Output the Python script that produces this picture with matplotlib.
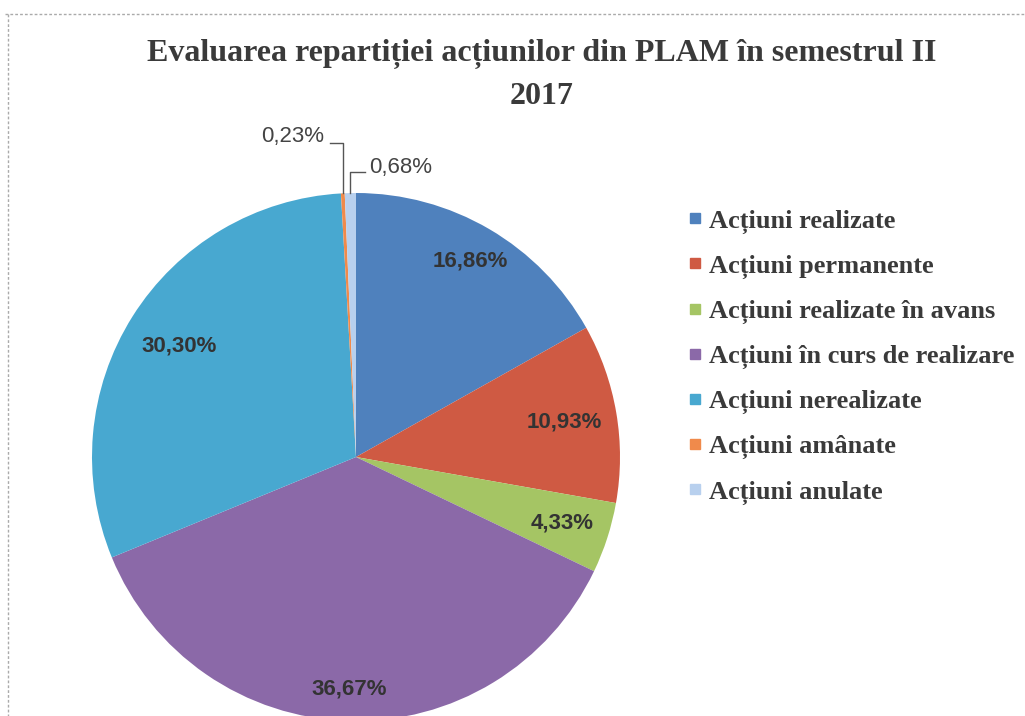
import numpy as np
import matplotlib
matplotlib.use("Agg")
import matplotlib.pyplot as plt
from matplotlib.lines import Line2D

# ---- data ----
categories = ["Acțiuni realizate", "Acțiuni permanente", "Acțiuni realizate în avans",
              "Acțiuni în curs de realizare", "Acțiuni nerealizate", "Acțiuni amânate",
              "Acțiuni anulate"]
values = [16.86, 10.93, 4.33, 36.67, 30.30, 0.23, 0.68]
value_labels = ["16,86%", "10,93%", "4,33%", "36,67%", "30,30%", "0,23%", "0,68%"]
colors = ["#4F81BD", "#CF5A43", "#A5C564", "#8B69A8", "#48A8D0", "#F08A4B", "#B8D0EE"]
title = "Evaluarea repartiției acțiunilor din PLAM în semestrul II\n2017"

W, H = 1025, 716
fig = plt.figure(figsize=(W / 100, H / 100), dpi=100)
fig.patch.set_facecolor("white")

# pie axes (pixel geometry: centre (356,457), radius 264)
cx, cy, R = 356, 457, 264
ax = fig.add_axes([(cx - R) / W, (H - cy - R) / H, 2 * R / W, 2 * R / H])

wedges, _ = ax.pie(values, colors=colors, startangle=90, counterclock=False,
                   radius=1, wedgeprops=dict(linewidth=0), frame=False)
ax.set_xlim(-1, 1)
ax.set_ylim(-1, 1)
ax.set_aspect("auto")
ax.axis("off")

lab_font = dict(family="Liberation Sans", fontweight="bold", fontsize=16, color="#333333")
# inside labels for the large slices
dists = [0.86, 0.80, 0.82, 0.88, 0.79]
for w, lab, d in zip(wedges[:5], value_labels[:5], dists):
    ang = np.deg2rad((w.theta1 + w.theta2) / 2)
    ax.text(d * np.cos(ang), d * np.sin(ang), lab, ha="center", va="center", **lab_font)

# outside labels with leader lines for the tiny slices
small_font = dict(family="Liberation Sans", fontsize=16, color="#444444")
# 0,23%
w = wedges[5]
ang = np.deg2rad((w.theta1 + w.theta2) / 2)
x0 = np.cos(ang)
ax.plot([x0, x0, x0 - 0.05], [1.0, 1.19, 1.19], color="#555555", lw=1, clip_on=False)
ax.text(x0 - 0.07, 1.215, value_labels[5], ha="right", va="center", **small_font)
# 0,68%
w = wedges[6]
ang = np.deg2rad((w.theta1 + w.theta2) / 2)
x1 = np.cos(ang)
ax.plot([x1, x1, x1 + 0.055], [1.0, 1.08, 1.08], color="#555555", lw=1, clip_on=False)
ax.text(x1 + 0.07, 1.095, value_labels[6], ha="left", va="center", **small_font)

# title
fig.text(542 / W, 1 - 75 / H, title, ha="center", va="center", family="Liberation Serif",
         fontweight="bold", fontsize=23, color="#3a3a3a", linespacing=1.6)

# legend
handles = [Line2D([0], [0], marker="s", linestyle="none", markersize=7,
                  markerfacecolor=c, markeredgecolor=c) for c in colors]
leg = fig.legend(handles, categories, loc="upper left",
                 bbox_to_anchor=(688 / W, 1 - 209 / H), frameon=False,
                 prop=dict(family="Liberation Serif", weight="bold", size=19),
                 handlelength=0.5, handletextpad=0.3, labelspacing=0.78,
                 borderpad=0, borderaxespad=0)
for t in leg.get_texts():
    t.set_color("#3a3a3a")

# dotted frame
fig.add_artist(Line2D([5 / W, 1], [1 - 14 / H, 1 - 14 / H], color="#aaaaaa", lw=1,
                      linestyle=(0, (2, 1.5)), transform=fig.transFigure))
fig.add_artist(Line2D([8 / W, 8 / W], [1 - 14 / H, 0], color="#aaaaaa", lw=1,
                      linestyle=(0, (2, 1.5)), transform=fig.transFigure))

fig.savefig("out.png", dpi=100)
